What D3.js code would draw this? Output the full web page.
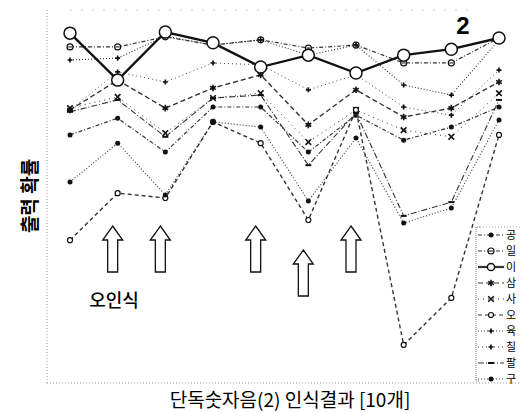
<!DOCTYPE html>
<html>
<head>
<meta charset="utf-8">
<script src="https://d3js.org/d3.v7.min.js"></script>
<style>
body { margin:0; background:#fff; }
text { font-family:"Noto Sans CJK KR", "DejaVu Sans", sans-serif; }
</style>
</head>
<body>
<script>
// categories: 10 recognition trials
var categories = [1,2,3,4,5,6,7,8,9,10];

// output probability per digit model
var gong = [66.5, 71.0, 61.9, 74.0, 74.0, 61.9, 71.8, 65.1, 68.6, 74.0];
var il   = [90.1, 90.1, 92.8, 90.6, 92.0, 89.8, 90.6, 85.8, 85.8, 92.5];
var i2   = [93.8, 81.2, 94.1, 91.2, 84.7, 87.9, 83.1, 87.9, 89.5, 92.5];
var sam  = [73.2, 81.2, 73.7, 79.1, 82.6, 69.2, 78.6, 71.3, 73.7, 80.7];
var sa   = [73.7, 76.7, 67.0, 76.4, 77.7, 64.6, 73.2, 67.8, 66.0, 77.7];
var o5   = [38.3, 50.9, 49.6, 70.0, 64.3, 43.7, 73.2, 10.2, 22.8, 66.5];
var yuk  = [86.6, 87.1, 93.0, 90.6, 92.0, 87.9, 90.6, 79.9, 77.2, 92.0];
var chil = [73.2, 83.4, 80.7, 85.8, 85.3, 78.6, 82.6, 74.0, 71.8, 83.9];
var pal  = [72.7, 75.9, 66.0, 76.4, 77.2, 58.4, 72.4, 44.8, 48.5, 75.9];
var gu   = [53.9, 64.3, 50.4, 70.0, 68.6, 48.8, 65.7, 42.9, 46.9, 70.5];

var seriesNames = ["공","일","이","삼","사","오","육","칠","팔","구"];
var seriesValues = [gong, il, i2, sam, sa, o5, yuk, chil, pal, gu];

// misrecognised trials marked with arrows
var errorTrials = [2,3,5,6,7];

//line style + marker per series
var styles = {
  "공": {dash:"4,2,1,2", w:1.2, m:"dot"},
  "일": {dash:"4,2,1,2", w:1.2, m:"theta"},
  "이": {dash:null,      w:2.4, m:"circle"},
  "삼": {dash:"5,3",     w:1.4, m:"star"},
  "사": {dash:"1,4",     w:1.0, m:"cross"},
  "오": {dash:"4,3",     w:1.4, m:"ring"},
  "육": {dash:"1,2",     w:1.1, m:"plus"},
  "칠": {dash:"1,3",     w:0.9, m:"plus"},
  "팔": {dash:"6,2,1,2", w:1.1, m:"bar"},
  "구": {dash:"1,2",     w:1.1, m:"dot"}
};

var W = 520, H = 413;
var svg = d3.select("body").append("svg").attr("width", W).attr("height", H);

var x = d3.scalePoint().domain(categories).range([70, 499]);
var y = d3.scaleLinear().domain([0, 100]).range([383, 10]);

//FRAME (dotted, scanned look)
svg.append("line").attr("x1",47).attr("y1",10).attr("x2",47).attr("y2",383)
  .attr("stroke","#999").attr("stroke-dasharray","1,2");
svg.append("line").attr("x1",47).attr("y1",383).attr("x2",520).attr("y2",383)
  .attr("stroke","#999").attr("stroke-dasharray","1,2");
svg.append("line").attr("x1",70).attr("y1",10).attr("x2",470).attr("y2",10)
  .attr("stroke","#ccc").attr("stroke-dasharray","2,9");

//MARKER DRAWING (s = size factor)
function marker(g, type, cx, cy, s) {
  s = s || 1;
  if (type == "circle") {
    g.append("circle").attr("cx",cx).attr("cy",cy).attr("r",6*s)
      .attr("fill","white").attr("stroke","#111").attr("stroke-width",1.5);
  } else if (type == "ring") {
    g.append("circle").attr("cx",cx).attr("cy",cy).attr("r",2.5)
      .attr("fill","white").attr("stroke","#111").attr("stroke-width",1.2);
  } else if (type == "theta") {
    g.append("circle").attr("cx",cx).attr("cy",cy).attr("r",3)
      .attr("fill","white").attr("stroke","#111").attr("stroke-width",1.2);
    g.append("line").attr("x1",cx-2).attr("x2",cx+2).attr("y1",cy).attr("y2",cy)
      .attr("stroke","#111");
  } else if (type == "dot") {
    g.append("circle").attr("cx",cx).attr("cy",cy).attr("r",2.5).attr("fill","#111");
  } else if (type == "star") {
    g.append("path").attr("d", d3.symbol(d3.symbolAsterisk, 30)()).attr("transform","translate("+cx+","+cy+")")
      .attr("fill","none").attr("stroke","#111").attr("stroke-width",1.6);
  } else if (type == "cross") {
    g.append("path").attr("d", d3.symbol(d3.symbolX, 22)()).attr("transform","translate("+cx+","+cy+")")
      .attr("fill","none").attr("stroke","#111").attr("stroke-width",1.6);
  } else if (type == "plus") {
    g.append("path").attr("d", d3.symbol(d3.symbolCross, 14)()).attr("transform","translate("+cx+","+cy+")")
      .attr("fill","#111");
  } else if (type == "bar") {
    g.append("line").attr("x1",cx-3).attr("x2",cx+3).attr("y1",cy).attr("y2",cy)
      .attr("stroke","#111").attr("stroke-width",2);
  }
}

var line = d3.line().x(function(d, i){ return x(categories[i]); }).y(function(d){ return y(d); });

//draw series, "이" last so it sits on top
var order = [0,1,3,4,5,6,7,8,9,2];
order.forEach(function(k) {
  var name = seriesNames[k], st = styles[name];
  var g = svg.append("g").attr("class","series");
  g.append("path").datum(seriesValues[k]).attr("d", line)
    .attr("fill","none").attr("stroke", k==2 ? "#111" : "#333")
    .attr("stroke-width", st.w)
    .attr("stroke-dasharray", st.dash);
  seriesValues[k].forEach(function(v, i){ marker(g, st.m, x(categories[i]), y(v)); });
});

//ARROWS (hollow, pointing up at misrecognised trials)
errorTrials.forEach(function(c, j) {
  var cx = x(c) - 5;
  var top = (c == 6) ? 250 : 226;
  var bot = top + 46;
  var pts = [[cx,top],[cx+10,top+14],[cx+5,top+14],[cx+5,bot],[cx-5,bot],[cx-5,top+14],[cx-10,top+14]];
  svg.append("polygon").attr("points", pts.join(" "))
    .attr("fill","white").attr("stroke","#111").attr("stroke-width",1.3);
});

svg.append("text").attr("x",114).attr("y",307).attr("text-anchor","middle")
  .attr("font-size",18).attr("font-weight","500").text("오인식");

svg.append("text").attr("x",463).attr("y",34).attr("text-anchor","middle")
  .style("font-family","'Liberation Sans', Arial, sans-serif")
  .attr("font-size",24).attr("font-weight","bold").text("2");

//AXIS TITLES
svg.append("text").attr("transform","translate(37,196) rotate(-90)")
  .attr("text-anchor","middle").attr("font-size",19).attr("font-weight","bold")
  .text("출력 확률");
svg.append("text").attr("x",290).attr("y",407).attr("text-anchor","middle")
  .attr("font-size",19).text("단독숫자음(2) 인식결과 [10개]");

//LEGEND
var lg = svg.append("g");
lg.append("path").attr("d","M480,227 L476,227 L476,381 L480,381")
  .attr("fill","none").attr("stroke","#777").attr("stroke-dasharray","1,1");
lg.append("line").attr("x1",480).attr("x2",520).attr("y1",227).attr("y2",227)
  .attr("stroke","#aaa").attr("stroke-dasharray","1,2");
seriesNames.forEach(function(name, i) {
  var st = styles[name], ly = 235 + i*16;
  lg.append("line").attr("x1",478).attr("x2",504).attr("y1",ly).attr("y2",ly)
    .attr("stroke","#333").attr("stroke-width", name=="이" ? 2.2 : 1)
    .attr("stroke-dasharray", st.dash);
  marker(lg, st.m, 491, ly, 0.6);
  lg.append("text").attr("x",506).attr("y",ly+4).attr("font-size",11).text(name);
});
</script>
</body>
</html>
